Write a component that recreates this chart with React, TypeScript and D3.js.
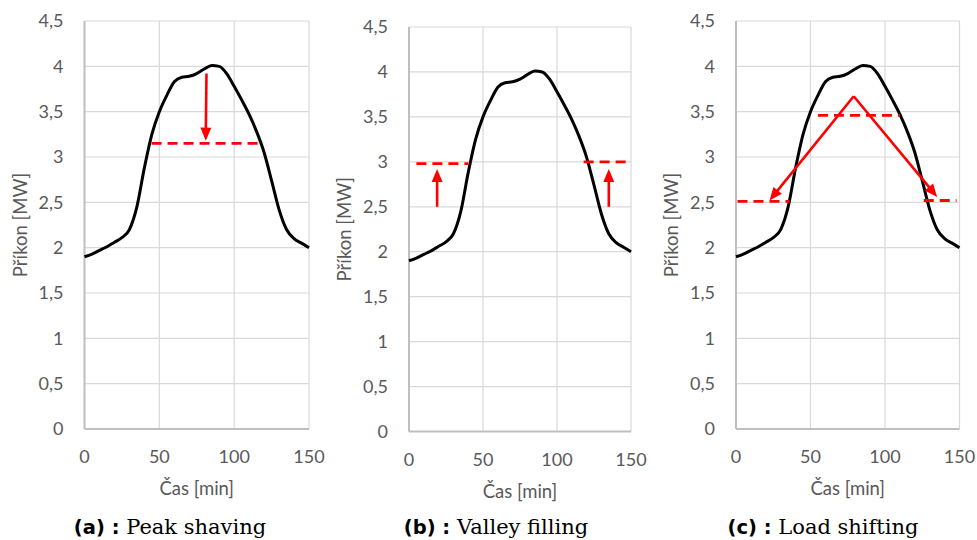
import React from 'react';
import * as d3 from 'd3';

// load profile (same curve in all three panels)
const minutes = [0, 5, 10, 15, 20, 25, 30, 35, 40, 45, 50, 55, 60, 65, 70, 75, 80, 85, 90, 95, 100, 105, 110, 115, 120, 125, 130, 135, 140, 145, 150];
const loadMW = [1.9, 1.93, 1.97, 2.01, 2.06, 2.11, 2.2, 2.45, 2.88, 3.25, 3.5, 3.68, 3.83, 3.88, 3.89, 3.92, 3.97, 4.01, 4.0, 3.92, 3.78, 3.63, 3.47, 3.28, 3.05, 2.74, 2.42, 2.2, 2.1, 2.05, 2.0];

const xTicks = [0, 50, 100, 150];
const yTicks = [0, 0.5, 1, 1.5, 2, 2.5, 3, 3.5, 4, 4.5];

// red annotations, in data units
const peakLevels = [{ t0: 44.8, t1: 117, v: 3.15 }];
const peakArrows = [{ t0: 81.5, v0: 3.92, t1: 81, v1: 3.18 }];

const valleyLevels = [{ t0: 5, t1: 40, v: 2.98 }, { t0: 118, t1: 150, v: 3.0 }];
const valleyArrows = [{ t0: 19, v0: 2.5, t1: 19, v1: 2.92 }, { t0: 135, v0: 2.5, t1: 135, v1: 2.92 }];

const shiftLevels = [{ t0: 1, t1: 36, v: 2.51 }, { t0: 55, t1: 110, v: 3.46 }, { t0: 126, t1: 148, v: 2.52 }];
const shiftArrows = [{ t0: 79, v0: 3.67, t1: 22.5, v1: 2.52 }, { t0: 79, v0: 3.67, t1: 135, v1: 2.56 }];

const panels = [
    { tag: '(a)', name: 'Peak shaving', box: [84.5, 309, 21, 429], capX: 170, levels: peakLevels, arrows: peakArrows },
    { tag: '(b)', name: 'Valley filling', box: [409, 631, 27, 431.5], capX: 496, levels: valleyLevels, arrows: valleyArrows },
    { tag: '(c)', name: 'Load shifting', box: [736, 959.5, 21, 429], capX: 823, levels: shiftLevels, arrows: shiftArrows }
];

const sans = 'Lato, "Open Sans", sans-serif';
const gray = '#595959';
const red = '#ff0000';
const fmt = (v: number) => String(v).replace('.', ',');

function Panel({ p }: { p: any }) {
    const [x0, x1, y0, y1] = p.box;
    const x = d3.scaleLinear().domain([0, 150]).range([x0, x1]);
    const y = d3.scaleLinear().domain([0, 4.5]).range([y1, y0]);
    const pts = minutes.map((t, i) => [t, loadMW[i]] as [number, number]);
    const line = d3.line<[number, number]>()
        .x(d => x(d[0]))
        .y(d => y(d[1]))
        .curve(d3.curveMonotoneX);

    const arrow = (a: any, i: number) => {
        const ax = x(a.t0), ay = y(a.v0), bx = x(a.t1), by = y(a.v1);
        const len = Math.hypot(bx - ax, by - ay);
        const ux = (bx - ax) / len, uy = (by - ay) / len;
        const hl = 13, hw = 5.5;
        const cx = bx - ux * hl, cy = by - uy * hl;
        const head = `M${bx},${by}L${cx - uy * hw},${cy + ux * hw}L${cx + uy * hw},${cy - ux * hw}Z`;
        return (
            <g key={'a' + i}>
                <line x1={ax} y1={ay} x2={cx + ux} y2={cy + uy} stroke={red} strokeWidth={2.6} />
                <path d={head} fill={red} />
            </g>
        );
    };

    return (
        <g>
            {yTicks.map(v => (
                <line key={'gy' + v} x1={x0} x2={x1} y1={y(v)} y2={y(v)} stroke="#d9d9d9" strokeWidth={1.2} />
            ))}
            {xTicks.map(t => (
                <line key={'gx' + t} x1={x(t)} x2={x(t)} y1={y0} y2={y1} stroke="#d9d9d9" strokeWidth={1.2} />
            ))}
            <line x1={x0} x2={x0} y1={y0} y2={y1} stroke="#bfbfbf" strokeWidth={2} />
            <line x1={x0} x2={x1} y1={y1} y2={y1} stroke="#bfbfbf" strokeWidth={2} />

            {yTicks.map(v => (
                <text key={'ty' + v} x={x0 - 21} y={y(v)} dy="0.36em" textAnchor="end"
                    fontFamily={sans} fontSize={18} fill={gray}>{fmt(v)}</text>
            ))}
            {xTicks.map(t => (
                <text key={'tx' + t} x={x(t)} y={y1 + 34} textAnchor="middle"
                    fontFamily={sans} fontSize={18} fill={gray}>{t}</text>
            ))}
            <text x={(x0 + x1) / 2} y={y1 + 66} textAnchor="middle" fontFamily={sans} fontSize={18.5} fill={gray}>Čas [min]</text>
            <text transform={`translate(${x0 - 58},${(y0 + y1) / 2}) rotate(-90)`} textAnchor="middle"
                fontFamily={sans} fontSize={18.5} fill={gray}>Příkon [MW]</text>

            <path d={line(pts) || ''} fill="none" stroke="#000" strokeWidth={3} strokeLinejoin="round" />

            {p.levels.map((l: any, i: number) => (
                <line key={'l' + i} x1={x(l.t0)} x2={x(l.t1)} y1={y(l.v)} y2={y(l.v)}
                    stroke={red} strokeWidth={2.8} strokeDasharray="10,6" />
            ))}
            {p.arrows.map(arrow)}

            <text x={p.capX} y={534} textAnchor="middle" fill="#000">
                <tspan fontFamily='"DejaVu Sans", sans-serif' fontWeight="bold" fontSize={19.5}>{p.tag} : </tspan>
                <tspan fontFamily='"DejaVu Serif", serif' fontSize={21}>{p.name}</tspan>
            </text>
        </g>
    );
}

export default function App() {
    return (
        <svg width={977} height={540} style={{ position: 'absolute', left: 0, top: 0, background: '#fff' }}>
            <rect width={977} height={540} fill="#fff" />
            {panels.map(p => <Panel key={p.tag} p={p} />)}
        </svg>
    );
}
